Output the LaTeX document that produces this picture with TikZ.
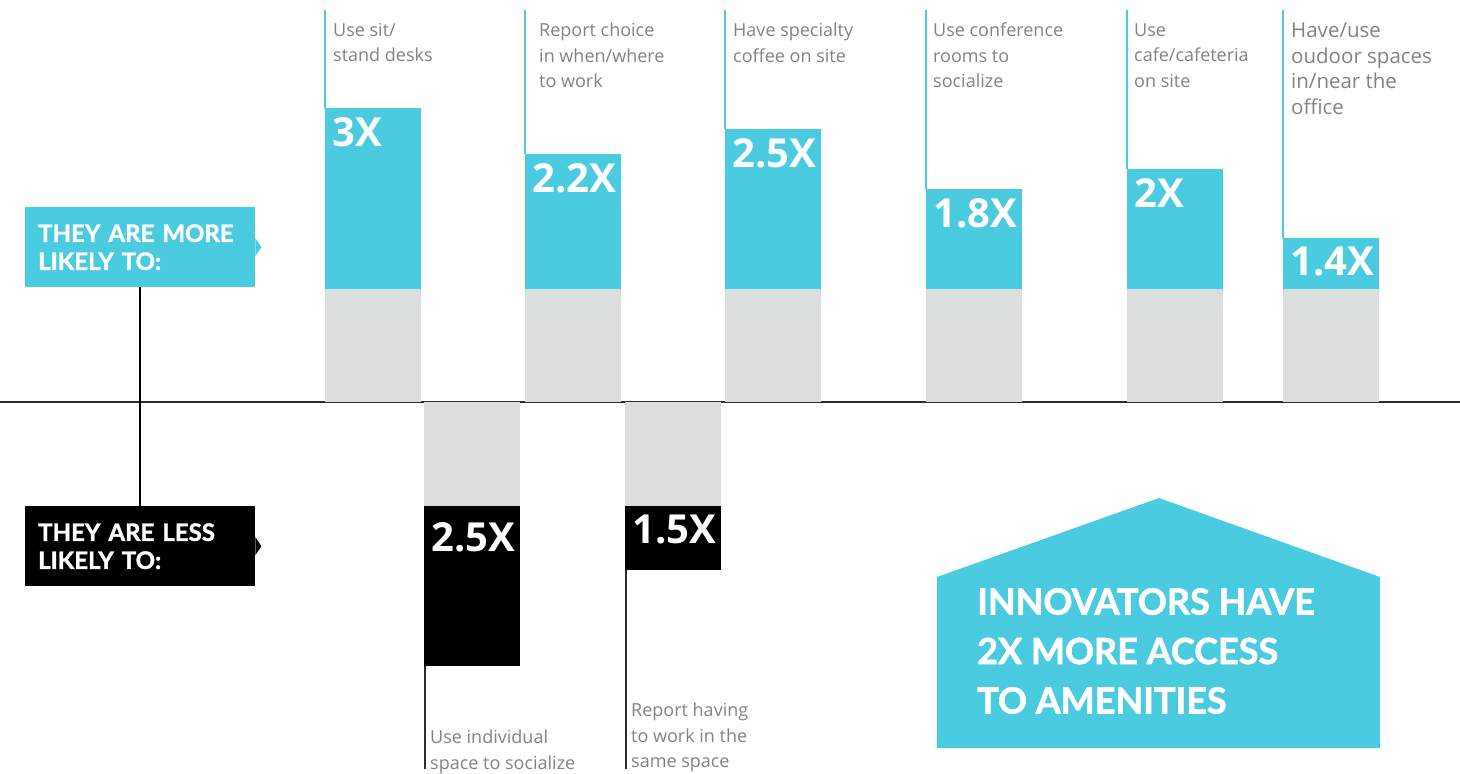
\documentclass[tikz,border=0pt]{standalone}
\usepackage{fontspec}
\setmainfont{Open Sans}
\newfontfamily\headfont{Lato}[BoldFeatures={FakeBold=1.6}]
\usetikzlibrary{positioning}
\definecolor{amenitycyan}{RGB}{75,203,223}
\definecolor{basegray}{RGB}{220,221,223}
\definecolor{notegray}{RGB}{130,130,132}
\definecolor{axisgray}{RGB}{45,45,45}
\tikzset{likelybox/.style={anchor=north west, minimum width=230pt, minimum height=80pt, inner xsep=13pt, inner ysep=0pt, text width=204pt, align=left, text=white, font=\headfont\bfseries\fontsize{24}{28}\selectfont},
ratio/.style={anchor=north west, inner sep=0pt, text=white, font=\bfseries\fontsize{40}{40}\selectfont},
note/.style={anchor=north west, inner sep=0pt, align=left, text=notegray, font=\fontsize{#1}{25.5}\selectfont},
note/.default=18}

\begin{document}
\begin{tikzpicture}[x=1pt, y=-1pt]
        \useasboundingbox (0,0) rectangle (1460,774);
        % Axis
        \draw[axisgray, line width=1.5pt] (0,402) -- (1460,402);
        % Row labels
        \node[likelybox, fill=amenitycyan] (more) at (25,207) {THEY ARE MORE\\LIKELY TO:};
        \node[likelybox, fill=black] (less) at (25,506) {THEY ARE LESS\\LIKELY TO:};
        \fill[amenitycyan] ([yshift=9pt]more.east) -- ([xshift=6pt]more.east) -- ([yshift=-9pt]more.east) -- cycle;
        \fill[black] ([yshift=9pt]less.east) -- ([xshift=6pt]less.east) -- ([yshift=-9pt]less.east) -- cycle;
        \draw[black, line width=1.5pt] ([xshift=115pt]more.south west) -- ([xshift=115pt]less.north west);
        % Bars above the axis
        \foreach \n/\x/\t/\lx/\fs/\v/\lab in {
            1/325/108/8/18/3X/{Use sit/\\stand desks},
            2/525/154/14/18/2.2X/{Report choice\\in when/where\\to work},
            3/725/129/8/18/2.5X/{Have specialty\\coffee on site},
            4/926/189/7/18/1.8X/{Use conference\\rooms to\\socialize},
            5/1127/169/7/18/2X/{Use\\cafe/cafeteria\\on site},
            6/1283/238/8/20.5/1.4X/{Have/use\\oudoor spaces\\in/near the\\office}} {
            \fill[basegray] (\x,289) rectangle (\x+96,402);
            \fill[amenitycyan] (\x,\t) rectangle (\x+96,289);
            \coordinate (bar\n) at (\x,\t);
            \coordinate (top\n) at (\x,10);
            \node[ratio] (up\n) at (\x+7,\t+9) {\v};
            \node[note=\fs] (note\n) at (\x+\lx,23) {\lab};
            \draw[amenitycyan, line width=1.5pt] (top\n) -- (bar\n);
        }
        % Bars below the axis
        \foreach \n/\x/\b/\ty/\ly/\v/\lab in {
            1/424/666/16/730/2.5X/{Use individual\\space to socialize},
            2/625/570/9/703/1.5X/{Report having\\to work in the\\same space}} {
            \fill[basegray] (\x,402) rectangle (\x+96,506);
            \fill[black] (\x,506) rectangle (\x+96,\b);
            \coordinate (foot\n) at (\x+1,\b);
            \coordinate (end\n) at (\x+1,769);
            \node[ratio] (down\n) at (\x+7,506+\ty) {\v};
            \node[note] (low\n) at (\x+6,\ly) {\lab};
            \draw[axisgray, line width=1.2pt] (foot\n) -- (end\n);
        }
        % House
        \fill[amenitycyan] (937,748) -- (937,577) -- (1159,498) -- (1380,577) -- (1380,748) -- cycle;
        \node[anchor=north west, inner sep=0pt, align=left, text=white, font=\headfont\bfseries\fontsize{36}{49.5}\selectfont] (claim) at (977,588) {INNOVATORS HAVE\\2X MORE ACCESS\\TO AMENITIES};
\end{tikzpicture}
\end{document}
